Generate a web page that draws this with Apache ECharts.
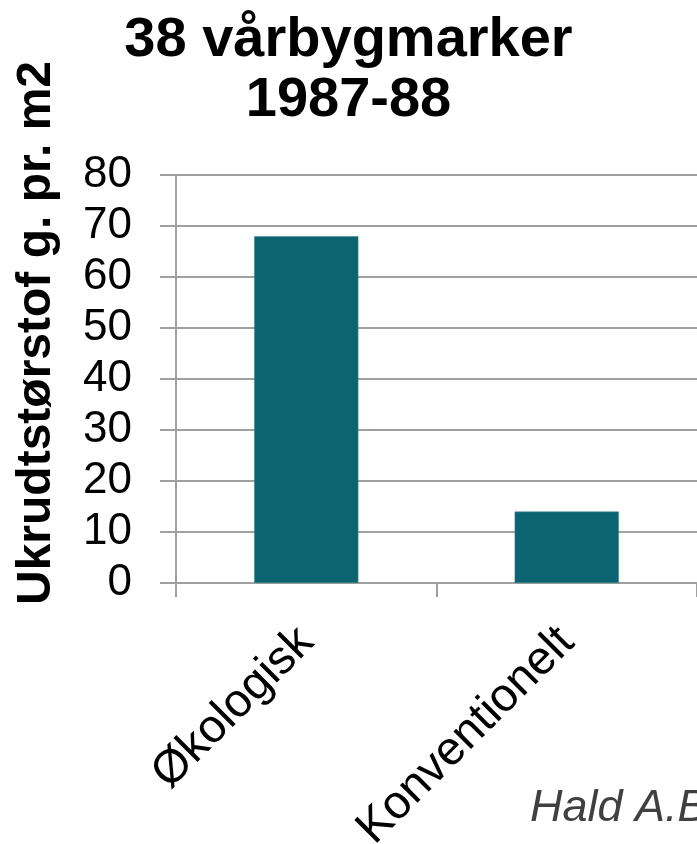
<!DOCTYPE html>
<html>
<head>
<meta charset="utf-8">
<style>
  html, body { margin: 0; padding: 0; background: #ffffff; }
  #chart { width: 697px; height: 844px; }
</style>
<script src="https://cdn.jsdelivr.net/npm/echarts@6/dist/echarts.min.js"></script>
</head>
<body>
<div id="chart"></div>
<script>
// Weed dry matter in spring-barley fields, 1987-88
const categories = ['Økologisk', 'Konventionelt'];
const weedBiomass = [68, 14];
const yTicks = { min: 0, max: 80, interval: 10 };

const titleText = '38 vårbygmarker\n1987-88';
const yAxisTitle = 'Ukrudtstørstof g. pr. m2';
const sourceText = 'Hald A.B.';

const FONT = "'Liberation Sans', Arial, sans-serif";
const GRID_GREY = '#a0a0a0';

const chart = echarts.init(document.getElementById('chart'), null, { renderer: 'canvas' });

chart.setOption({
  backgroundColor: '#ffffff',
  animation: false,
  title: {
    text: titleText,
    left: 'center',
    top: 6,
    textStyle: {
      fontFamily: FONT,
      fontWeight: 'bold',
      fontSize: 56,
      lineHeight: 60,
      color: '#000000'
    }
  },
  grid: {
    left: 176, right: 0, top: 175, bottom: 261,
    containLabel: false,
    outerBoundsMode: 'none'
  },
  xAxis: {
    type: 'category',
    data: categories,
    axisLine: { show: true, lineStyle: { color: GRID_GREY, width: 2 } },
    axisTick: { show: true, length: 14, alignWithLabel: false, lineStyle: { color: GRID_GREY, width: 2 } },
    axisLabel: {
      rotate: 45,
      margin: 52,
      interval: 0,
      fontFamily: FONT,
      fontSize: 47,
      color: '#000000'
    }
  },
  yAxis: {
    type: 'value',
    min: yTicks.min,
    max: yTicks.max,
    interval: yTicks.interval,
    axisLine: { show: true, lineStyle: { color: GRID_GREY, width: 2 } },
    axisTick: { show: true, length: 16, lineStyle: { color: GRID_GREY, width: 2 } },
    splitLine: { show: true, lineStyle: { color: GRID_GREY, width: 2 } },
    axisLabel: {
      margin: 44,
      fontFamily: FONT,
      fontSize: 44,
      color: '#000000'
    }
  },
  series: [{
    type: 'bar',
    data: weedBiomass,
    barWidth: '40%',
    itemStyle: { color: '#0b6470', borderColor: '#3f8a93', borderWidth: 0.5 }
  }],
  graphic: [
    {
      type: 'text',
      x: 37,
      y: 333,
      rotation: Math.PI / 2,
      style: {
        text: yAxisTitle,
        x: 0,
        y: 0,
        align: 'center',
        verticalAlign: 'middle',
        font: "bold 48px 'Liberation Sans', Arial, sans-serif",
        fill: '#000000'
      }
    },
    {
      type: 'text',
      x: 530,
      y: 808,
      style: {
        text: sourceText,
        x: 0,
        y: 0,
        align: 'left',
        verticalAlign: 'middle',
        font: "italic 45px 'Liberation Sans', Arial, sans-serif",
        fill: '#404040'
      }
    }
  ]
});
</script>
</body>
</html>
